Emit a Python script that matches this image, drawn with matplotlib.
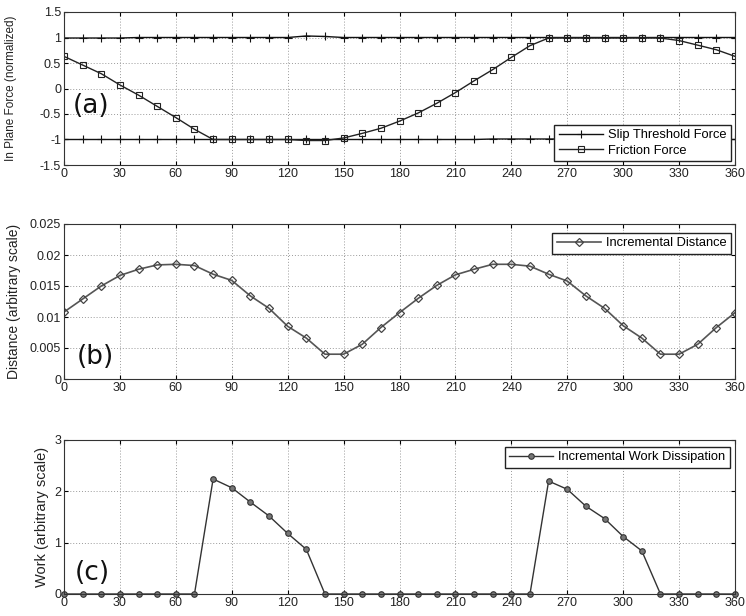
import matplotlib
matplotlib.use("Agg")
import matplotlib.pyplot as plt

# crank angle (deg), one point every 10 degrees
angle = list(range(0, 361, 10))

# (a) in-plane force, normalized
slip_upper = [0.99, 0.99, 0.99, 0.99, 1.0, 1.0, 1.0, 1.0, 1.0, 1.0, 1.0, 1.0, 1.0,
              1.03, 1.02, 1.0, 1.0, 1.0, 1.0, 1.0, 1.0, 1.0, 1.0, 1.0, 1.0, 1.0,
              1.0, 1.0, 1.0, 1.0, 1.0, 1.0, 1.0, 1.0, 1.0, 1.0, 1.0]
slip_lower = [-1.0, -1.0, -1.0, -1.0, -1.0, -1.0, -1.0, -1.0, -1.0, -1.0, -1.0, -1.0, -1.0,
              -1.0, -1.0, -1.0, -1.0, -1.0, -1.0, -1.0, -1.0, -1.0, -1.0, -0.99, -0.99, -0.99,
              -0.99, -0.99, -0.99, -0.99, -0.99, -0.99, -0.99, -0.99, -1.0, -1.0, -1.0]
friction = [0.63, 0.46, 0.29, 0.07, -0.13, -0.35, -0.57, -0.80, -1.0, -1.0, -1.0, -1.0, -1.0,
            -1.02, -1.02, -0.97, -0.88, -0.78, -0.64, -0.48, -0.29, -0.08, 0.15, 0.37, 0.61, 0.84,
            0.99, 0.99, 0.99, 0.99, 0.99, 0.99, 0.99, 0.94, 0.85, 0.76, 0.63]

# (b) incremental distance (arbitrary scale)
distance = [0.0108, 0.0129, 0.0150, 0.0167, 0.0177, 0.0184, 0.0185, 0.0183, 0.0169, 0.0159,
            0.0134, 0.0114, 0.0085, 0.0066, 0.0040, 0.0040, 0.0056, 0.0083, 0.0107, 0.0130,
            0.0151, 0.0168, 0.0177, 0.0185, 0.0185, 0.0182, 0.0169, 0.0158, 0.0134, 0.0114,
            0.0086, 0.0066, 0.0040, 0.0040, 0.0056, 0.0083, 0.0107]

# (c) incremental work dissipation (arbitrary scale)
work = [0, 0, 0, 0, 0, 0, 0, 0, 2.24, 2.07, 1.79, 1.52, 1.18, 0.87, 0, 0, 0, 0,
        0, 0, 0, 0, 0, 0, 0, 0, 2.20, 2.04, 1.71, 1.47, 1.12, 0.84, 0, 0, 0, 0, 0]

x_ticks = list(range(0, 361, 30))
force_ticks = [-1.5, -1, -0.5, 0, 0.5, 1, 1.5]
force_ticklabels = ["-1.5", "-1", "-0.5", "0", "0.5", "1", "1.5"]
dist_ticks = [0, 0.005, 0.01, 0.015, 0.02, 0.025]
dist_ticklabels = ["0", "0.005", "0.01", "0.015", "0.02", "0.025"]
work_ticks = [0, 1, 2, 3]

plt.rcParams["font.family"] = ["Liberation Sans", "DejaVu Sans"]
plt.rcParams["font.size"] = 9

fig = plt.figure(figsize=(7.46, 6.16), dpi=100)
W, H = 746, 616
left, right = 64, 735

legend_kw = dict(borderaxespad=0, fancybox=False, edgecolor="#222222", framealpha=1,
                 fontsize=9.3, handlelength=3.4, borderpad=0.35, handletextpad=0.4)


def make_axes(top, bottom):
    return fig.add_axes([left / W, 1 - bottom / H, (right - left) / W, (bottom - top) / H])


def style_axes(ax):
    ax.set_xlim(0, 360)
    ax.set_xticks(x_ticks)
    ax.grid(True, linestyle=(0, (1, 2)), color="#9a9a9a", linewidth=0.7)
    ax.tick_params(direction="in", length=3, top=True, right=True,
                   labelsize=9, labelcolor="#222222", pad=2)
    for sp in ax.spines.values():
        sp.set_linewidth(0.8)
        sp.set_color("#333333")


# ---- (a) ----
ax1 = make_axes(12, 165)
ax1.plot(angle, slip_upper, color="#111111", lw=1.0, marker="+", ms=6, mew=0.8,
         label="Slip Threshold Force")
ax1.plot(angle, slip_lower, color="#111111", lw=1.0, marker="+", ms=6, mew=0.8)
ax1.plot(angle, friction, color="#222222", lw=1.0, marker="s", ms=5, mfc="none",
         mec="#222222", mew=0.8, label="Friction Force")
ax1.set_ylim(-1.5, 1.5)
ax1.set_yticks(force_ticks)
ax1.set_yticklabels(force_ticklabels)
style_axes(ax1)
ax1.set_ylabel("In Plane Force (normalized)", fontsize=8.5, color="#222222")
ax1.yaxis.set_label_coords(-0.070, 0.5)
ax1.legend(loc="lower right", bbox_to_anchor=(0.994, 0.026), labelspacing=0.25, **legend_kw)

# ---- (b) ----
ax2 = make_axes(224, 379)
ax2.plot(angle, distance, color="#555555", lw=1.2, marker="D", ms=4, mfc="none",
         mec="#444444", mew=0.9, label="Incremental Distance")
ax2.set_ylim(0, 0.025)
ax2.set_yticks(dist_ticks)
ax2.set_yticklabels(dist_ticklabels)
style_axes(ax2)
ax2.set_ylabel("Distance (arbitrary scale)", fontsize=10, color="#222222")
ax2.yaxis.set_label_coords(-0.064, 0.5)
ax2.legend(loc="upper right", bbox_to_anchor=(0.994, 0.944), **legend_kw)

# ---- (c) ----
ax3 = make_axes(440, 594)
ax3.plot(angle, work, color="#333333", lw=1.0, marker="o", ms=4, mfc="#777777",
         mec="#333333", mew=0.8, label="Incremental Work Dissipation", clip_on=False)
ax3.set_ylim(0, 3)
ax3.set_yticks(work_ticks)
style_axes(ax3)
ax3.set_ylabel("Work (arbitrary scale)", fontsize=10.5, color="#222222")
ax3.yaxis.set_label_coords(-0.023, 0.5)
ax3.legend(loc="upper right", bbox_to_anchor=(0.9925, 0.956), **legend_kw)

# panel tags
for tag, (px, py) in zip(["(a)", "(b)", "(c)"], [(91, 106), (95, 357), (92, 573)]):
    fig.text(px / W, 1 - py / H, tag, fontsize=19, family=["DejaVu Sans"],
             ha="center", va="center", color="#111111")

fig.savefig("out.png", dpi=100)
